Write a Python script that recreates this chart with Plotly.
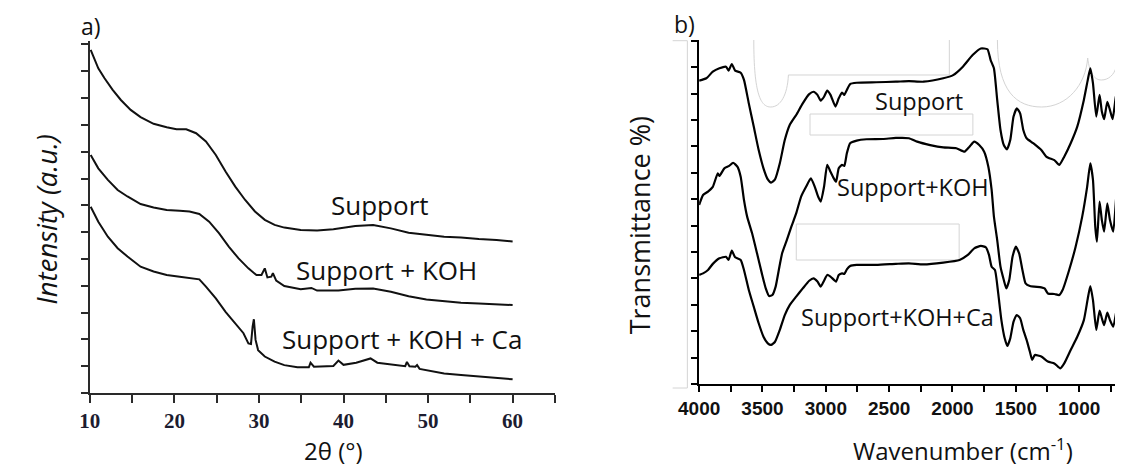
import plotly.graph_objects as go

# ---------------- data: a) XRD ----------------
xrd_2theta_support = [10.1, 11.0, 11.74, 12.7, 13.67, 14.83, 16.0, 17.54, 19.09, 20.25, 21.4, 22.57, 23.73,
                      24.9, 26.05, 27.2, 28.37, 29.53, 30.69, 31.85, 33.0, 34.94, 36.88, 38.8, 41.4, 43.5,
                      45.6, 47.7, 49.8, 51.9, 53.9, 56.0, 58.1, 60.0]
xrd_support = [12.8, 12.11, 11.74, 11.31, 10.93, 10.56, 10.29, 10.04, 9.91, 9.84, 9.84, 9.69, 9.38,
               8.88, 8.26, 7.70, 7.20, 6.77, 6.46, 6.27, 6.17, 6.08, 6.06, 6.11, 6.23, 6.27,
               6.14, 5.98, 5.90, 5.83, 5.80, 5.74, 5.71, 5.65]

xrd_2theta_koh = [10.1, 11.0, 12.13, 13.29, 14.45, 16.0, 17.54, 19.09, 20.63, 21.79, 22.95, 24.11, 25.27,
                  26.43, 27.59, 28.75, 29.7, 30.3, 30.69, 31.0, 31.46, 31.65, 32.04, 33.0, 34.94, 36.2,
                  36.88, 38.8, 39.4, 41.4, 43.5, 45.6, 47.7, 49.8, 51.9, 53.9, 56.0, 58.1, 60.0]
xrd_koh = [8.88, 8.38, 7.95, 7.57, 7.33, 7.05, 6.92, 6.83, 6.80, 6.77, 6.68, 6.39, 5.96,
           5.46, 5.02, 4.65, 4.40, 4.40, 4.65, 4.31, 4.34, 4.47, 4.19, 3.99, 3.87, 3.92,
           3.82, 3.84, 3.82, 3.89, 3.90, 3.78, 3.61, 3.49, 3.43, 3.37, 3.34, 3.31, 3.28]

xrd_2theta_ca = [10.1, 11.0, 12.13, 13.29, 14.45, 16.0, 17.54, 19.09, 20.63, 21.79, 22.95, 23.73, 24.9,
                 26.05, 27.2, 28.17, 28.75, 29.06, 29.25, 29.4, 29.6, 29.9, 30.69, 31.85, 33.0, 34.55,
                 35.9, 36.1, 36.5, 38.8, 39.4, 40.0, 41.5, 43.2, 44.0, 45.6, 47.3, 47.5, 47.8, 48.5,
                 48.7, 49.0, 49.8, 51.9, 53.9, 56.0, 58.1, 60.0]
xrd_ca = [6.95, 6.39, 5.83, 5.40, 5.09, 4.71, 4.53, 4.40, 4.34, 4.28, 4.24, 3.97, 3.53,
          3.03, 2.60, 2.23, 1.85, 1.83, 2.48, 2.75, 1.98, 1.60, 1.36, 1.17, 1.04, 0.96,
          0.96, 1.13, 0.98, 1.01, 1.21, 1.05, 1.13, 1.29, 1.13, 1.08, 1.0, 1.16, 1.0, 0.98,
          1.04, 0.9, 0.86, 0.73, 0.67, 0.61, 0.57, 0.51]

xrd_tickvals = [10, 20, 30, 40, 50, 60]
xrd_minor_ticks = [15, 25, 35, 45, 55, 65]
xrd_labels = ["Support", "Support + KOH", "Support + KOH + Ca"]

# ---------------- data: b) FTIR ----------------
ftir_wn_support = [4000, 3943, 3892, 3840, 3788, 3768, 3742, 3716, 3672, 3646, 3608, 3569, 3530, 3492, 3458,
                   3432, 3401, 3363, 3324, 3285, 3234, 3182, 3131, 3097, 3066, 3040, 3014, 2989, 2963, 2924,
                   2898, 2872, 2854, 2834, 2808, 2756, 2602, 2447, 2344, 2228, 2073, 1995, 1918, 1841, 1776,
                   1724, 1699, 1673, 1647, 1621, 1595, 1570, 1544, 1518, 1492, 1466, 1441, 1415, 1363, 1299,
                   1260, 1234, 1196, 1157, 1118, 1067, 1015, 963, 932, 912, 891, 865, 839, 821, 803,
                   778, 757, 736, 711, 680, 656]
ftir_support = [11.49, 11.58, 11.83, 11.96, 12.02, 11.87, 12.12, 11.87, 11.79, 11.52, 10.63, 9.75, 8.86, 8.17, 7.75,
                7.63, 7.75, 8.36, 9.24, 9.81, 10.19, 10.63, 10.98, 11.07, 10.95, 10.73, 10.88, 11.11, 10.95, 10.51,
                10.82, 11.04, 10.95, 11.14, 11.36, 11.41, 11.43, 11.45, 11.47, 11.45, 11.58, 11.70, 12.02, 12.46, 12.71,
                12.68, 12.27, 11.96, 10.76, 9.62, 9.05, 8.89, 9.24, 10.13, 10.44, 10.25, 9.62, 9.31, 9.12, 8.86,
                8.61, 8.55, 8.48, 8.30, 8.61, 9.12, 9.75, 10.76, 11.52, 11.96, 11.39, 10.13, 10.95, 10.32, 10.03,
                10.69, 10.38, 10.03, 10.86, 11.52, 11.58]

ftir_wn_koh = [4000, 3969, 3930, 3892, 3853, 3840, 3801, 3763, 3732, 3698, 3672, 3646, 3621, 3582, 3543,
               3505, 3474, 3448, 3422, 3396, 3371, 3345, 3308, 3272, 3234, 3195, 3156, 3118, 3087, 3061,
               3040, 3014, 2989, 2963, 2937, 2919, 2898, 2872, 2854, 2834, 2808, 2756, 2679, 2550, 2447,
               2344, 2279, 2176, 2073, 1970, 1905, 1866, 1828, 1789, 1750, 1717, 1691, 1673, 1647, 1621,
               1595, 1575, 1552, 1526, 1500, 1474, 1448, 1423, 1389, 1299, 1273, 1247, 1196, 1157, 1131,
               1079, 1028, 976, 937, 912, 891, 873, 860, 839, 821, 803, 778, 757, 731, 705, 680, 656]
ftir_koh = [6.78, 7.16, 7.29, 7.47, 7.98, 7.88, 8.17, 8.26, 8.38, 8.23, 7.85, 6.97, 6.34, 5.71, 4.95,
            4.19, 3.62, 3.33, 3.37, 3.69, 4.32, 4.95, 5.45, 5.96, 6.46, 7.10, 7.47, 7.79, 7.47, 7.10,
            6.91, 7.47, 8.30, 8.04, 7.79, 7.66, 8.17, 8.30, 8.26, 8.74, 9.12, 9.22, 9.27, 9.28, 9.32,
            9.31, 9.18, 9.05, 8.96, 8.93, 8.80, 8.99, 9.18, 9.05, 8.80, 8.23, 7.35, 6.34, 5.45, 4.44,
            3.94, 3.62, 3.94, 4.82, 5.20, 4.95, 4.32, 3.81, 3.71, 3.66, 3.62, 3.43, 3.41, 3.37, 3.56,
            4.32, 5.20, 6.34, 7.47, 8.36, 7.73, 5.96, 5.39, 6.91, 6.21, 5.77, 6.84, 6.21, 5.77, 7.22, 8.04, 8.36]

ftir_wn_ca = [4000, 3969, 3930, 3892, 3840, 3788, 3768, 3742, 3716, 3672, 3646, 3608, 3569, 3530, 3492,
              3458, 3432, 3401, 3363, 3324, 3285, 3234, 3182, 3131, 3097, 3066, 3040, 3014, 2989, 2963,
              2919, 2898, 2872, 2854, 2834, 2808, 2756, 2602, 2447, 2344, 2228, 2073, 1944, 1879, 1828,
              1776, 1737, 1712, 1691, 1665, 1639, 1614, 1588, 1567, 1544, 1518, 1492, 1466, 1441, 1415,
              1389, 1371, 1350, 1299, 1247, 1196, 1149, 1118, 1067, 1015, 963, 932, 912, 891, 865,
              839, 821, 803, 778, 757, 731, 705, 680, 656]
ftir_ca = [4.13, 4.19, 4.32, 4.55, 4.76, 4.82, 4.70, 5.05, 4.80, 4.70, 4.32, 3.56, 2.93, 2.30, 1.79,
           1.54, 1.48, 1.60, 2.05, 2.61, 2.99, 3.31, 3.62, 3.91, 4.00, 3.88, 3.69, 3.91, 4.13, 4.07,
           3.88, 4.13, 4.19, 4.17, 4.34, 4.47, 4.51, 4.51, 4.55, 4.57, 4.53, 4.60, 4.70, 4.89, 5.14,
           5.23, 5.18, 4.89, 4.44, 4.32, 3.43, 2.42, 1.73, 1.44, 1.73, 2.36, 2.61, 2.49, 2.05, 1.67,
           1.22, 0.91, 1.10, 1.04, 0.85, 0.78, 0.59, 0.78, 1.29, 1.79, 2.42, 3.24, 3.71, 3.18, 2.05,
           2.78, 2.49, 2.23, 2.70, 2.42, 2.17, 2.80, 3.31, 3.50]

ftir_tickvals = [4000, 3500, 3000, 2500, 2000, 1500, 1000]
ftir_minor_ticks = [3750, 3250, 2750, 2250, 1750, 1250, 750]
ftir_labels = ["Support", "Support+KOH", "Support+KOH+Ca"]

# ---------------- figure ----------------
PAGE_W, PAGE_H = 1123, 468
OFF = 8  # default body margin of the page
W, H = PAGE_W - OFF, PAGE_H - OFF


def fx(px):
    return (px - OFF) / W


def fy(py):
    return 1 - (py - OFF) / H


fig = go.Figure()

for xs, ys in [(xrd_2theta_support, xrd_support), (xrd_2theta_koh, xrd_koh), (xrd_2theta_ca, xrd_ca)]:
    fig.add_trace(go.Scatter(x=xs, y=ys, mode="lines", line=dict(color="#111111", width=2),
                             xaxis="x", yaxis="y", showlegend=False, hoverinfo="skip"))

for xs, ys in [(ftir_wn_support, ftir_support), (ftir_wn_koh, ftir_koh), (ftir_wn_ca, ftir_ca)]:
    fig.add_trace(go.Scatter(x=xs, y=ys, mode="lines",
                             line=dict(color="#000000", width=2.2, shape="spline", smoothing=0.5),
                             xaxis="x2", yaxis="y2", showlegend=False, hoverinfo="skip"))

axis_common = dict(showgrid=False, zeroline=False, showline=True, ticks="outside", tickwidth=2)

fig.update_layout(
    width=W, height=H, autosize=False,
    margin=dict(l=0, r=0, t=0, b=0),
    paper_bgcolor="white", plot_bgcolor="white",
    xaxis=dict(domain=[fx(70), fx(544)], range=[10, 65], anchor="y",
               tickvals=xrd_tickvals, ticklen=8, linecolor="#2a2a2a", linewidth=2, tickcolor="#2a2a2a",
               tickfont=dict(family="Liberation Serif", size=21, color="#1c1c30", weight="bold"),
               minor=dict(tickvals=xrd_minor_ticks, ticks="outside", ticklen=8, tickwidth=2, tickcolor="#2a2a2a"),
               **axis_common),
    yaxis=dict(domain=[fy(393), fy(41)], range=[0, 13.13], anchor="x", dtick=1, tick0=0,
               ticklen=7, showticklabels=False, linecolor="#2a2a2a", linewidth=2, tickcolor="#2a2a2a",
               **axis_common),
    xaxis2=dict(domain=[fx(691), 1.0], range=[4000, 654], anchor="y2",
                tickvals=ftir_tickvals, ticklen=6, linecolor="#000", linewidth=2, tickcolor="#000",
                tickfont=dict(family="Liberation Sans", size=19, color="#111", weight="bold"),
                minor=dict(tickvals=ftir_minor_ticks, ticks="outside", ticklen=6, tickwidth=2, tickcolor="#000"),
                **axis_common),
    yaxis2=dict(domain=[fy(384), fy(40)], range=[0, 13.03], anchor="x2", dtick=1, tick0=0,
                ticklen=6, showticklabels=False, linecolor="#000", linewidth=2, tickcolor="#000",
                **axis_common),
)

txt = dict(family="Open Sans", color="#111111")
ann = []
# panel letters
ann.append(dict(text="a)", x=fx(71), y=fy(26), font=dict(size=23, **txt)))
ann.append(dict(text="b)", x=fx(676), y=fy(24), font=dict(size=23, **txt)))
# axis titles
ann.append(dict(text="2θ (°)", x=fx(318), y=fy(450), font=dict(size=24, **txt)))
ann.append(dict(text="<i>Intensity (a.u.)</i>", x=fx(25), y=fy(220), textangle=-90, font=dict(size=27.5, **txt)))
ann.append(dict(text="Wavenumber (cm<sup>-1</sup>)", x=fx(960), y=fy(449), font=dict(size=24, **txt)))
ann.append(dict(text="Transmittance %)", x=fx(630), y=fy(225), textangle=-90, font=dict(size=27, **txt)))
# curve labels
for label, (px, py) in zip(xrd_labels, [(366, 205), (372, 270), (388, 339)]):
    ann.append(dict(text=label, x=fx(px), y=fy(py), font=dict(size=26, **txt)))
for label, (px, py) in zip(ftir_labels, [(915, 101), (909, 187), (893, 317)]):
    ann.append(dict(text=label, x=fx(px), y=fy(py), font=dict(size=23.5, **txt)))

for a in ann:
    a.update(xref="paper", yref="paper", xanchor="center", yanchor="middle", showarrow=False)
fig.update_layout(annotations=ann)


# faint scanning artefacts in panel b (light grey outlines)
def P(pts):
    return " ".join(f"{fx(x):.5f},{fy(y):.5f}" for x, y in pts)


faint = dict(color="#d4d4d4", width=1)
shapes = [
    dict(type="path", path="M " + P([(664, 40.7)]) + " L " + P([(679, 40.7)]) + " L " + P([(679, 388)])
         + " L " + P([(664, 388)]), line=faint),
    dict(type="rect", x0=fx(804), x1=fx(970), y0=fy(135), y1=fy(114), line=faint),
    dict(type="rect", x0=fx(790), x1=fx(956), y0=fy(260), y1=fy(224), line=faint),
    dict(type="path", path="M " + P([(746.7, 40)]) + " C " + P([(746.7, 95), (754, 107), (764, 107)])
         + " C " + P([(774, 107), (781, 95), (782, 75)]) + " L " + P([(946, 75)]) + " L " + P([(946, 40)]),
         line=faint),
    dict(type="path", path="M " + P([(995, 40)]) + " C " + P([(995, 92), (1015, 107), (1040, 107)])
         + " C " + P([(1066, 107), (1085, 85), (1087, 58)])
         + " C " + P([(1089, 74), (1094, 80), (1101, 80)]) + " C " + P([(1108, 80), (1114, 75), (1116, 67)]),
         line=faint),
]
for s in shapes:
    s.update(xref="paper", yref="paper", layer="below")
fig.update_layout(shapes=shapes)

fig.write_html("out.html")
